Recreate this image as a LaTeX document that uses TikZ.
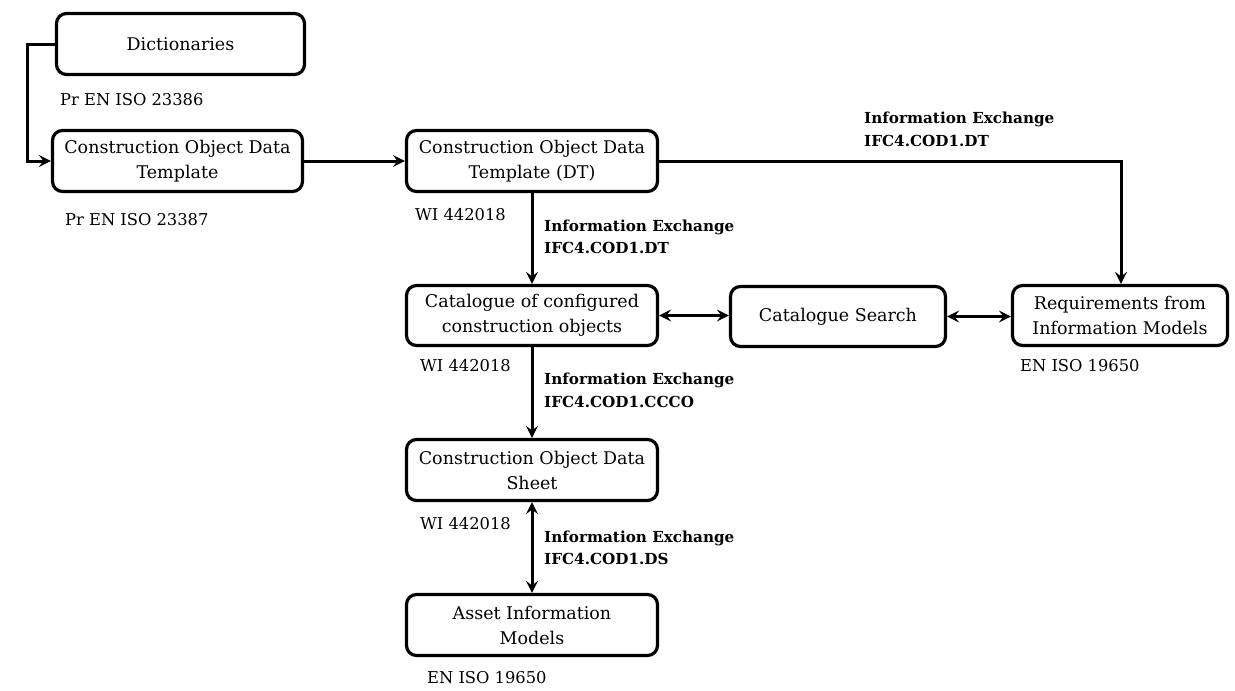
\documentclass[tikz,border=0pt]{standalone}
\usepackage{fontspec}
\setmainfont{DejaVu Serif}
\usetikzlibrary{arrows.meta}
\begin{document}
\begin{tikzpicture}[x=1pt,y=-1pt,
  box/.style={draw,line width=3.2pt,rounded corners=10pt,align=center,inner sep=0pt,
    font=\fontsize{17.5}{25}\selectfont},
  lbl/.style={anchor=west,inner sep=0pt,font=\fontsize{16.3}{20}\selectfont},
  blbl/.style={anchor=west,inner sep=0pt,align=left,font=\fontsize{15.2}{22.5}\selectfont\bfseries},
  tip/.style={Stealth[length=12pt,width=12pt,inset=4.5pt]},
  conn/.style={line width=3pt,-{Stealth[length=12pt,width=12pt,inset=4.5pt]}},
  dconn/.style={line width=3pt,{Stealth[length=12pt,width=12pt,inset=4.5pt]}-{Stealth[length=12pt,width=12pt,inset=4.5pt]}}
]
\useasboundingbox (0,0) rectangle (1235,691);
\node[box,minimum width=248pt,minimum height=61pt] (dict) at (180.5,44) {Dictionaries};
\node[box,minimum width=250pt,minimum height=61pt] (cot) at (177.5,161) {\raisebox{-2pt}{\parbox{250pt}{\centering Construction Object Data\\Template}}};
\node[box,minimum width=251pt,minimum height=61pt] (dt) at (532,161) {\raisebox{-2pt}{\parbox{250pt}{\centering Construction Object Data\\Template (DT)}}};
\node[box,minimum width=251pt,minimum height=60pt] (cat) at (532,315.5) {\raisebox{-2pt}{\parbox{250pt}{\centering Catalogue of configured\\construction objects}}};
\node[box,minimum width=215pt,minimum height=60pt] (search) at (838,316.5) {Catalogue Search};
\node[box,minimum width=215pt,minimum height=60pt] (req) at (1120,315.5) {\raisebox{-2pt}{\parbox{214pt}{\centering Requirements from\\Information Models}}};
\node[box,minimum width=251pt,minimum height=61pt] (sheet) at (532,470) {\raisebox{-2pt}{\parbox{250pt}{\centering Construction Object Data\\Sheet}}};
\node[box,minimum width=251pt,minimum height=61pt] (asset) at (532,625) {\raisebox{-2pt}{\parbox{250pt}{\centering Asset Information\\Models}}};

\node[lbl] (l1) at (60,100) {Pr EN ISO 23386};
\node[lbl] (l2) at (65,220) {Pr EN ISO 23387};
\node[lbl] (l3) at (415,215) {WI 442018};
\node[lbl] (l4) at (420,366) {WI 442018};
\node[lbl] (l5) at (420,524) {WI 442018};
\node[lbl] (l6) at (427,678) {EN ISO 19650};
\node[lbl] (l7) at (1020,366) {EN ISO 19650};

\node[blbl] (b1) at (544,237) {Information Exchange\\IFC4.COD1.DT};
\node[blbl] (b2) at (544,390.5) {Information Exchange\\IFC4.COD1.CCCO};
\node[blbl] (b3) at (544,548) {Information Exchange\\IFC4.COD1.DS};
\node[blbl] (b4) at (864,129.5) {Information Exchange\\IFC4.COD1.DT};

\coordinate (c1) at (27,44);
\coordinate (c2) at (27,161);
\coordinate (c3) at (1121,161);
\draw[conn] (dict.west) -- (c1) -- (c2) -- (cot.west);
\draw[conn] (cot.east) -- (dt.west);
\draw[conn] (dt.east) -- (c3) -- (c3 |- req.north);
\draw[conn] (dt.south) -- (cat.north);
\draw[dconn] (cat.east) -- (cat.east -| search.west);
\draw[dconn] (search.east) -- (search.east -| req.west);
\draw[conn] (cat.south) -- (sheet.north);
\draw[dconn] (sheet.south) -- (asset.north);
\end{tikzpicture}
\end{document}
